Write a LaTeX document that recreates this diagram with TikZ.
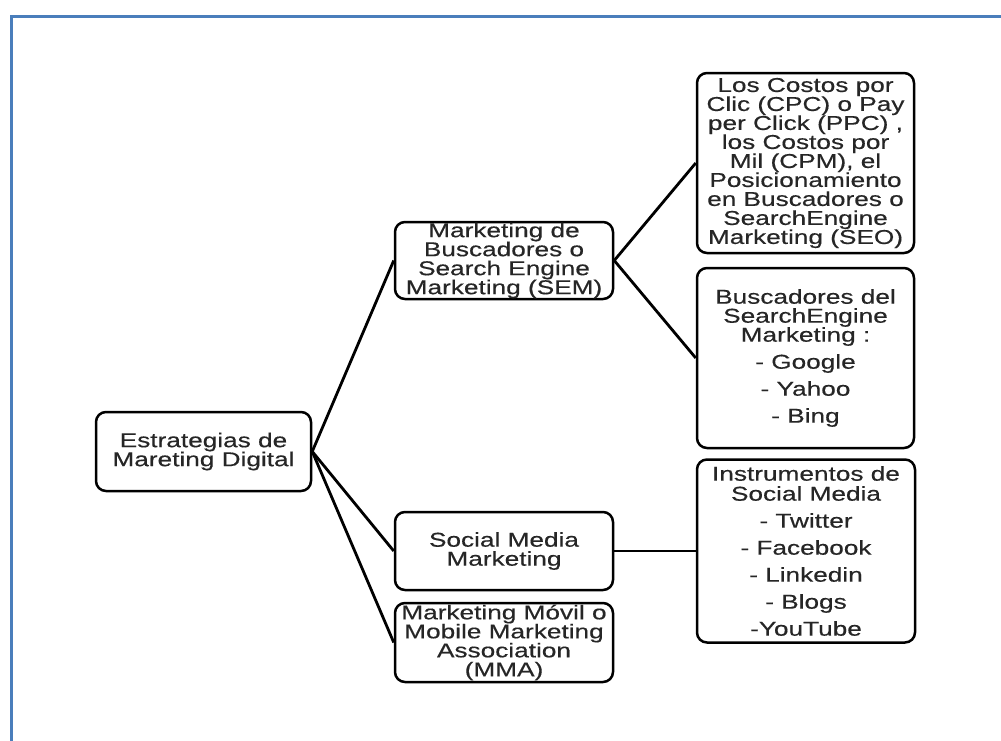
\documentclass[tikz,border=0pt]{standalone}
\usepackage{fontspec}
\setmainfont{Liberation Sans}[FakeStretch=1.31,FakeBold=0.4]
\definecolor{framecol}{HTML}{4A7EBB}
\definecolor{textcol}{HTML}{262626}
\begin{document}
\begin{tikzpicture}[x=1pt,y=-1pt,
  box/.style={draw=black, line width=2.5pt, rounded corners=10pt, align=center,
    inner sep=0pt, text=textcol, font=\fontsize{20}{19}\selectfont},
  link/.style={draw=black, line width=2.8pt},
  frameline/.style={draw=framecol, line width=3pt}]
\useasboundingbox (0,0) rectangle (1001,740);
\draw[frameline] (11,745) -- (11,16) -- (1006,16);

\node[box, minimum width=215pt, minimum height=79pt] (root) at (203.5,451.5)
  {Estrategias de\\Mareting Digital};
\node[box, minimum width=218pt, minimum height=77pt] (sem) at (504,260.5)
  {Marketing de\\Buscadores o\\Search Engine\\Marketing (SEM)};
\node[box, minimum width=217pt, minimum height=180pt] (cpc) at (805.5,163)
  {Los Costos por\\Clic (CPC) o Pay\\per Click (PPC) ,\\los Costos por\\Mil (CPM), el\\Posicionamiento\\en Buscadores o\\SearchEngine\\Marketing (SEO)};
\node[box, minimum width=217pt, minimum height=180pt] (bus) at (805.5,358)
  {Buscadores del\\SearchEngine\\Marketing :\\[8pt] - Google\\[8pt] - Yahoo\\[8pt] - Bing};
\node[box, minimum width=218pt, minimum height=183pt] (ins) at (806,551)
  {Instrumentos de\\[1pt] Social Media\\[8pt] - Twitter\\[8pt] - Facebook\\[8pt] - Linkedin\\[8pt] - Blogs\\[8pt] -YouTube};
\node[box, minimum width=218pt, minimum height=78pt] (smm) at (504,551)
  {Social Media\\Marketing};
\node[box, minimum width=218pt, minimum height=79pt] (mma) at (504,642.5)
  {Marketing Móvil o\\Mobile Marketing\\Association\\(MMA)};

\draw[link] (root.east) -- (sem.west);
\draw[link] (root.east) -- (smm.west);
\draw[link] (root.east) -- (mma.west);
\draw[link] (sem.east) -- (cpc.west);
\draw[link] (sem.east) -- (bus.west);
\draw[link] (smm.east) -- (ins.west);
\end{tikzpicture}
\end{document}
